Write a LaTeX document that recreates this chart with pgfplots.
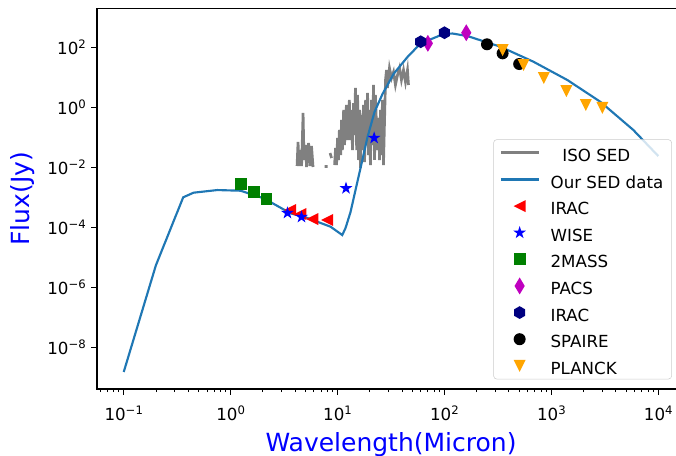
\documentclass[border=0pt]{standalone}
\usepackage{fontspec}
\setmainfont{DejaVu Sans}
\usepackage{pgfplots}
\pgfplotsset{compat=1.18}

\definecolor{sedblue}{HTML}{1F77B4}
\definecolor{mplgreen}{rgb}{0,0.5,0}
\definecolor{mplmagenta}{rgb}{0.75,0,0.75}
\definecolor{mplnavy}{rgb}{0,0,0.5}
\definecolor{mplorange}{rgb}{1,0.647,0}
\definecolor{isogray}{rgb}{0.5,0.5,0.5}

% marker shapes in the style of the usual scatter symbols
\pgfdeclareplotmark{tril}{%
  \pgfpathmoveto{\pgfpoint{-\pgfplotmarksize}{0pt}}%
  \pgfpathlineto{\pgfpoint{\pgfplotmarksize}{\pgfplotmarksize}}%
  \pgfpathlineto{\pgfpoint{\pgfplotmarksize}{-\pgfplotmarksize}}%
  \pgfpathclose\pgfusepath{fill}}
\pgfdeclareplotmark{trid}{%
  \pgfpathmoveto{\pgfpoint{0pt}{-\pgfplotmarksize}}%
  \pgfpathlineto{\pgfpoint{-\pgfplotmarksize}{\pgfplotmarksize}}%
  \pgfpathlineto{\pgfpoint{\pgfplotmarksize}{\pgfplotmarksize}}%
  \pgfpathclose\pgfusepath{fill}}
\pgfdeclareplotmark{sq}{%
  \pgfpathrectanglecorners{\pgfpoint{-\pgfplotmarksize}{-\pgfplotmarksize}}{\pgfpoint{\pgfplotmarksize}{\pgfplotmarksize}}%
  \pgfusepath{fill}}
\pgfdeclareplotmark{dot}{%
  \pgfpathcircle{\pgfpointorigin}{\pgfplotmarksize}\pgfusepath{fill}}
\pgfdeclareplotmark{thind}{%
  \pgfpathmoveto{\pgfpoint{0pt}{1.414\pgfplotmarksize}}%
  \pgfpathlineto{\pgfpoint{0.849\pgfplotmarksize}{0pt}}%
  \pgfpathlineto{\pgfpoint{0pt}{-1.414\pgfplotmarksize}}%
  \pgfpathlineto{\pgfpoint{-0.849\pgfplotmarksize}{0pt}}%
  \pgfpathclose\pgfusepath{fill}}
\pgfdeclareplotmark{hexa}{%
  \pgfpathmoveto{\pgfpointpolar{90}{\pgfplotmarksize}}%
  \pgfpathlineto{\pgfpointpolar{150}{\pgfplotmarksize}}%
  \pgfpathlineto{\pgfpointpolar{210}{\pgfplotmarksize}}%
  \pgfpathlineto{\pgfpointpolar{270}{\pgfplotmarksize}}%
  \pgfpathlineto{\pgfpointpolar{330}{\pgfplotmarksize}}%
  \pgfpathlineto{\pgfpointpolar{30}{\pgfplotmarksize}}%
  \pgfpathclose\pgfusepath{fill}}
\pgfdeclareplotmark{fstar}{%
  \pgfpathmoveto{\pgfpointpolar{90}{\pgfplotmarksize}}%
  \pgfpathlineto{\pgfpointpolar{126}{0.382\pgfplotmarksize}}%
  \pgfpathlineto{\pgfpointpolar{162}{\pgfplotmarksize}}%
  \pgfpathlineto{\pgfpointpolar{198}{0.382\pgfplotmarksize}}%
  \pgfpathlineto{\pgfpointpolar{234}{\pgfplotmarksize}}%
  \pgfpathlineto{\pgfpointpolar{270}{0.382\pgfplotmarksize}}%
  \pgfpathlineto{\pgfpointpolar{306}{\pgfplotmarksize}}%
  \pgfpathlineto{\pgfpointpolar{342}{0.382\pgfplotmarksize}}%
  \pgfpathlineto{\pgfpointpolar{18}{\pgfplotmarksize}}%
  \pgfpathlineto{\pgfpointpolar{54}{0.382\pgfplotmarksize}}%
  \pgfpathclose\pgfusepath{fill}}

\newcommand\tickfont{\fontsize{12.5}{15}\selectfont}
\newcommand\sx[1]{\raisebox{0.36em}{\fontsize{8.75}{10}\selectfont #1}}

\begin{document}
\begin{tikzpicture}
\path[use as bounding box] (0pt,0pt) rectangle (507pt,342pt);
\begin{axis}[
  at={(72.75pt,50.25pt)}, anchor=south west,
  scale only axis, width=441pt, height=285.5pt,
  xmode=log, ymode=log,
  xmin=0.05623, xmax=17783, ymin=4.198e-10, ymax=2056,
  axis line style={line width=0.8pt},
  tick pos=left, tick align=outside,
  major tick length=4.2pt, minor tick length=2.4pt,
  every tick/.style={black, line width=0.8pt},
  every minor tick/.style={black, line width=0.6pt},
  xtick={0.1,1,10,100,1000,10000},
  xticklabels={10\sx{−1},10\sx{0},10\sx{1},10\sx{2},10\sx{3},10\sx{4}},
  minor xtick={0.06,0.07,0.08,0.09,0.2,0.3,0.4,0.5,0.6,0.7,0.8,0.9,
    2,3,4,5,6,7,8,9,20,30,40,50,60,70,80,90,200,300,400,500,600,700,800,900,
    2000,3000,4000,5000,6000,7000,8000,9000},
  ytick={1e-8,1e-6,1e-4,1e-2,1,100},
  yticklabels={10\sx{−8},10\sx{−6},10\sx{−4},10\sx{−2},10\sx{0},10\sx{2}},
  minor ytick={},
  every tick label/.append style={font=\tickfont, inner sep=0pt},
  xticklabel style={anchor=north},
  xticklabel shift=8pt,
  yticklabel style={anchor=east},
  yticklabel shift=4pt,
  xlabel={Wavelength(Micron)},
  ylabel={Flux(Jy)},
  label style={font=\fontsize{18.75}{22}\selectfont, text=blue},
  xlabel style={at={(axis description cs:0.5,-0.1655)}, anchor=base},
  ylabel style={at={(axis description cs:-0.1259,0.5)}, anchor=center},
  unbounded coords=jump,
  legend style={
    at={(axis description cs:0.674,0.6559)}, anchor=north west,
    draw=black!20, fill=white, fill opacity=0.8,
    draw opacity=1, text opacity=1, rounded corners=2.5pt,
    font=\tickfont,
    inner xsep=4.3pt, inner ysep=0pt,
    row sep=0pt, column sep=6pt,
    cells={anchor=west, inner xsep=0pt, inner ysep=0pt, text height=14.46pt, text depth=5.34pt},
  },
  legend cell align=left,
  legend image code/.code={%
    \path[draw=none, fill=none] (0pt,-4pt) (28.3pt,4pt);
    \draw[fill opacity=1, draw opacity=1, rounded corners=0pt, mark repeat=2, mark phase=2, #1]
      plot coordinates {(0pt,0pt) (14.15pt,0pt) (28.3pt,0pt)};},
]

% photometry, drawn first so that the spectra lie over it
\addplot[only marks, mark=tril, mark size=4.5pt, color=red, forget plot]
  coordinates {(3.6,3.9e-4) (4.5,2.86e-4) (5.8,1.95e-4) (8.0,1.81e-4)};
\addplot[only marks, mark=fstar, mark size=5pt, color=blue, forget plot]
  coordinates {(3.4,3.09e-4) (4.6,2.27e-4) (12,2.06e-3) (22,0.098)};
\addplot[only marks, mark=sq, mark size=4.4pt, color=mplgreen, forget plot]
  coordinates {(1.25,2.8e-3) (1.65,1.58e-3) (2.17,9.3e-4)};
\addplot[only marks, mark=thind, mark size=4.5pt, color=mplmagenta, forget plot]
  coordinates {(70,140) (160,316)};
\addplot[only marks, mark=hexa, mark size=4.8pt, color=mplnavy, forget plot]
  coordinates {(60,158) (100,316)};
\addplot[only marks, mark=dot, mark size=4.5pt, color=black, forget plot]
  coordinates {(250,130) (350,65) (500,28.6)};
\addplot[only marks, mark=trid, mark size=4.5pt, color=mplorange, forget plot]
  coordinates {(350,83.8) (550,26.5) (850,9.77) (1382,3.6) (2100,1.23) (3000,0.98)};

% ISO spectrum
\addplot[color=isogray, line width=2pt, no marks, forget plot] coordinates {
  (4.18,0.0114) (4.27,0.0719) (4.37,0.0114) (4.51,0.0389) (4.61,0.0114)
  (4.76,0.666) (4.86,0.0181) (5.02,0.0571) (5.13,0.01055) (5.36,0.0666)
  (5.53,0.0114) (5.71,0.0529) (5.90,0.01055)
  (6.5,nan)
  (7.56,0.011) (8.06,0.011)
  (8.3,nan)
  (8.51,0.0309) (8.79,0.021)
  (9.1,nan)
  (9.38,0.0123) (9.58,0.0454) (9.79,0.0123) (10.0,0.0977) (10.2,0.0181)
  (10.4,0.181) (10.7,0.0265) (10.9,0.389) (11.1,0.0389) (11.4,0.838)
  (11.6,0.0571) (11.9,0.211) (12.1,1.23) (12.4,0.0838) (12.7,0.454)
  (12.9,1.81) (13.2,0.0838) (13.5,0.838) (13.8,0.0389) (14.1,1.43)
  (14.4,0.123) (14.7,4.54) (15.1,0.0389) (15.4,2.65) (15.7,0.0181)
  (16.1,0.838) (16.4,0.0098) (16.8,0.571) (17.1,0.0389) (17.5,1.23)
  (17.9,0.0155) (18.3,1.81) (18.7,0.0838) (19.1,3.09) (19.5,0.0265)
  (19.9,0.838) (20.3,0.0123) (20.8,1.81) (21.2,0.0571) (21.7,5.71)
  (22.2,0.0181) (22.6,2.65) (23.6,0.0389) (24.2,0.454) (24.7,0.0181)
  (25.2,0.838) (25.8,0.0265) (26.3,1.81) (26.9,0.0123)
  (28.1,8.4) (28.7,18.1) (29.3,4.54) (30.6,21.0) (32.0,9.77) (33.4,15.5)
  (34.8,5.71) (36.4,12.3) (38.0,21.0) (39.6,8.4) (41.4,18.1) (43.2,7.19)
  (45.1,18.1) (46.1,5.71)
};

% model SED
\addplot[color=sedblue, line width=1.6pt, no marks, forget plot] coordinates {
  (0.1,1.55e-9) (0.2,5.6e-6) (0.36,1.03e-3) (0.45,1.47e-3) (0.75,1.8e-3)
  (1.24,1.71e-3) (2.05,9.5e-4) (3.64,3.0e-4) (4.84,2.33e-4) (8.6,1.08e-4)
  (11.07,5.7e-5) (11.88,9.77e-5) (13.23,3.34e-4) (14.73,1.81e-3)
  (16.41,9.77e-3) (19.08,0.1055) (22.17,0.719) (26.34,2.86) (33.38,13.3)
  (45.1,49) (59.7,138) (97.9,286) (119,297) (164,245) (333.8,108)
  (679,34.2) (1411,8.38) (2871,1.58) (5841,0.181) (10000,0.0245)
};

% legend
\addlegendimage{color=isogray, line width=2.2pt, no marks}
\addlegendentry{\hspace{8.8pt}ISO SED}
\addlegendimage{color=sedblue, line width=2pt, no marks}
\addlegendentry{Our SED data}
\addlegendimage{only marks, mark=tril, mark size=4.5pt, color=red}
\addlegendentry{IRAC}
\addlegendimage{only marks, mark=fstar, mark size=5pt, color=blue}
\addlegendentry{WISE}
\addlegendimage{only marks, mark=sq, mark size=4.4pt, color=mplgreen}
\addlegendentry{2MASS}
\addlegendimage{only marks, mark=thind, mark size=4.5pt, color=mplmagenta}
\addlegendentry{PACS}
\addlegendimage{only marks, mark=hexa, mark size=4.8pt, color=mplnavy}
\addlegendentry{IRAC}
\addlegendimage{only marks, mark=dot, mark size=4.5pt, color=black}
\addlegendentry{SPAIRE}
\addlegendimage{only marks, mark=trid, mark size=4.5pt, color=mplorange}
\addlegendentry{PLANCK}
\end{axis}
\end{tikzpicture}
\end{document}
